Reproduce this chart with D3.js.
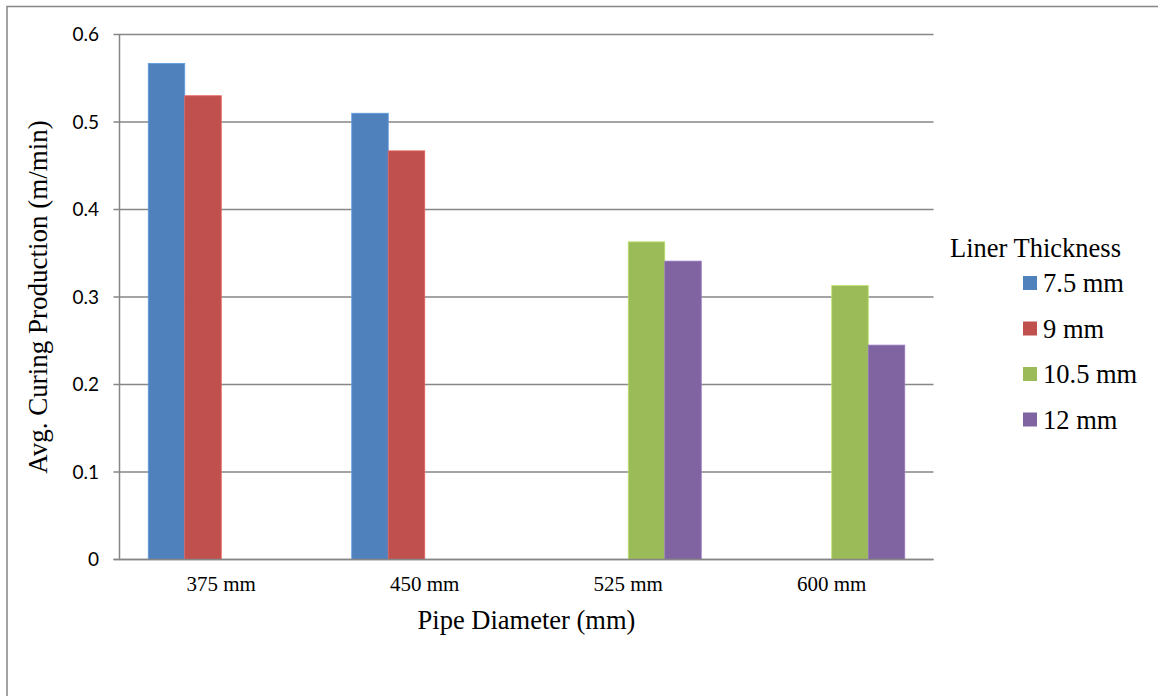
<!DOCTYPE html>
<html><head><meta charset="utf-8">
<script src="https://cdn.jsdelivr.net/npm/d3@7"></script>
<style>body{margin:0;background:#fff;}svg{display:block;}
.serif{font-family:"Liberation Serif","Times New Roman","DejaVu Serif",serif;}
.sans{font-family:Lato,"Liberation Sans",sans-serif;}
</style>
</head><body>
<svg id="c" width="1158" height="696"></svg>
<script>
const categories = ["375 mm", "450 mm", "525 mm", "600 mm"];
const seriesNames = ["7.5 mm", "9 mm", "10.5 mm", "12 mm"];
const colors = ["#4F81BD", "#C0504D", "#9BBB59", "#8064A2"];
const s75 = [0.567, 0.510, null, null];
const s9 = [0.530, 0.467, null, null];
const s105 = [null, null, 0.363, 0.313];
const s12 = [null, null, 0.341, 0.245];
const yTicks = [0, 0.1, 0.2, 0.3, 0.4, 0.5, 0.6];
const legendTitle = "Liner Thickness";
const xTitle = "Pipe Diameter (mm)";
const yTitle = "Avg. Curing Production (m/min)";

const series = [s75, s9, s105, s12];
const svg = d3.select("#c");
const L = 119.5, R = 933.5, T = 34.5, B = 559.5;

// outer frame
svg.append("path").attr("d", `M7,700 V6.5 H1160`).attr("fill","none").attr("stroke","#868686").attr("stroke-width",1.5);

const x = d3.scaleBand().domain(categories).range([L, R]).paddingInner(0).paddingOuter(0);
const bw = x.bandwidth();
const barW = bw / 5.575;
const gap = bw - 4 * barW;
const xs = d3.scaleBand().domain(seriesNames).range([gap/2, bw - gap/2]);
const y = d3.scaleLinear().domain([0, 0.6]).range([B, T]);

// gridlines
svg.append("g").selectAll("line").data(yTicks).join("line")
  .attr("x1", L - 6).attr("x2", R).attr("y1", d => y(d)).attr("y2", d => y(d))
  .attr("stroke", "#868686").attr("stroke-width", 1.5);
svg.append("line").attr("x1", L).attr("x2", L).attr("y1", T).attr("y2", B).attr("stroke","#868686").attr("stroke-width",1.5);

// y tick labels
svg.append("g").selectAll("text").data(yTicks).join("text")
  .attr("class", "sans")
  .attr("x", 99).attr("y", d => y(d)).attr("dy", "0.35em").attr("text-anchor", "end")
  .style("font-size", "19px").attr("fill", "#000")
  .text(d => d === 0 ? "0" : d3.format(".1f")(d));

// bars
const g = svg.append("g");
series.forEach((vals, si) => {
  g.selectAll(null).data(categories.map((c, i) => ({c, v: vals[i]})).filter(d => d.v != null)).join("rect")
    .attr("x", d => x(d.c) + xs(seriesNames[si]))
    .attr("width", xs.bandwidth())
    .attr("y", d => y(d.v))
    .attr("height", d => y(0) - y(d.v))
    .attr("fill", colors[si])
    .attr("stroke", d3.color(colors[si]).brighter(0.5)).attr("stroke-width", 0.8);
});
svg.append("line").attr("x1", L - 6).attr("x2", R).attr("y1", y(0)).attr("y2", y(0)).attr("stroke","#868686").attr("stroke-width",1.5);

// x labels
svg.append("g").selectAll("text").data(categories).join("text")
  .attr("class", "serif")
  .attr("x", d => x(d) + bw/2).attr("y", 591).attr("text-anchor", "middle")
  .style("font-size", "21px").text(d => d);

svg.append("text").attr("class", "serif").attr("x", (L+R)/2).attr("y", 629).attr("text-anchor","middle")
  .style("font-size", "26.5px").text(xTitle);

svg.append("text").attr("class", "serif").attr("transform", `translate(47,${(T+B)/2}) rotate(-90)`).attr("text-anchor","middle")
  .style("font-size", "27px").text(yTitle);

// legend
svg.append("text").attr("class", "serif").attr("x", 950).attr("y", 257).style("font-size", "26.5px").text(legendTitle);
const lg = svg.append("g").selectAll("g").data(seriesNames).join("g")
  .attr("transform", (d, i) => `translate(1023,${283 + i * 45.5})`);
lg.append("rect").attr("x", 0).attr("y", -7).attr("width", 14).attr("height", 14).attr("fill", (d, i) => colors[i]);
lg.append("text").attr("class", "serif").attr("x", 20).attr("y", 0).attr("dy", "0.35em").style("font-size", "26.5px").text(d => d);
</script>
</body></html>
